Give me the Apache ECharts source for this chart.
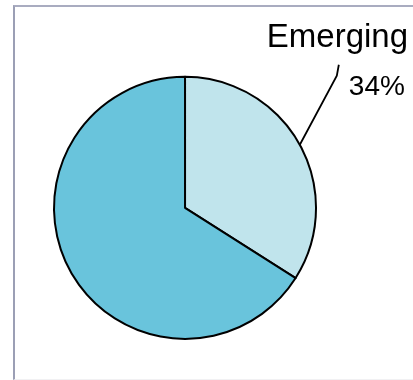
<!DOCTYPE html>
<html>
<head>
<meta charset="utf-8">
<script src="https://cdn.jsdelivr.net/npm/echarts@6/dist/echarts.min.js"></script>
<style>
  html, body { margin: 0; padding: 0; background: #ffffff; }
  #wrap { position: relative; width: 413px; height: 380px; overflow: hidden; }
  #frame {
    position: absolute; left: 13px; top: 5px; right: 0; bottom: 0;
    border-left: 2px solid #9b9fb5; border-top: 2px solid #a9acc0;
    border-bottom: 1px solid #f1f1f3; box-sizing: border-box; pointer-events: none;
  }
  #chart { position: absolute; left: 0; top: 0; width: 413px; height: 380px; }
</style>
</head>
<body>
<div id="wrap">
  <div id="frame"></div>
  <div id="chart"></div>
</div>
<script>
// Market split shown as a two-slice pie
const categories = ['Emerging', 'Developed'];
const shares = [34, 66];
const labelled = [true, false];

const sliceColors = ['#c0e4ec', '#69c4dc'];

const chart = echarts.init(document.getElementById('chart'), null, { renderer: 'canvas' });

const pieData = categories.map((name, i) => ({
  name: name,
  value: shares[i],
  itemStyle: { color: sliceColors[i] },
  label: { show: labelled[i] },
  labelLine: { show: labelled[i] }
}));

chart.setOption({
  animation: false,
  series: [{
    type: 'pie',
    center: ['44.8%', '54.7%'],
    radius: 131,
    startAngle: 90,
    clockwise: true,
    silent: true,
    itemStyle: { borderColor: '#000000', borderWidth: 2 },
    label: {
      position: 'outside',
      width: 170,
      overflow: 'none',
      formatter: '{name|{b}}\n{pct|{d}%}',
      rich: {
        name: { fontFamily: 'Liberation Sans', fontSize: 33, color: '#000000', lineHeight: 47 },
        pct: { fontFamily: 'Liberation Sans', fontSize: 28, color: '#000000', lineHeight: 51, padding: [0, 0, 0, 82] }
      }
    },
    labelLine: { lineStyle: { color: '#000000', width: 1.8 } },
    labelLayout: function (params) {
      if (!params.labelLinePoints) return {};
      const s = params.labelLinePoints[0];
      return {
        x: s[0] - 33,
        y: s[1] - 130,
        align: 'left',
        verticalAlign: 'top',
        labelLinePoints: [s, [s[0] + 37, s[1] - 69], [s[0] + 39, s[1] - 80]]
      };
    },
    data: pieData
  }]
});
</script>
</body>
</html>
